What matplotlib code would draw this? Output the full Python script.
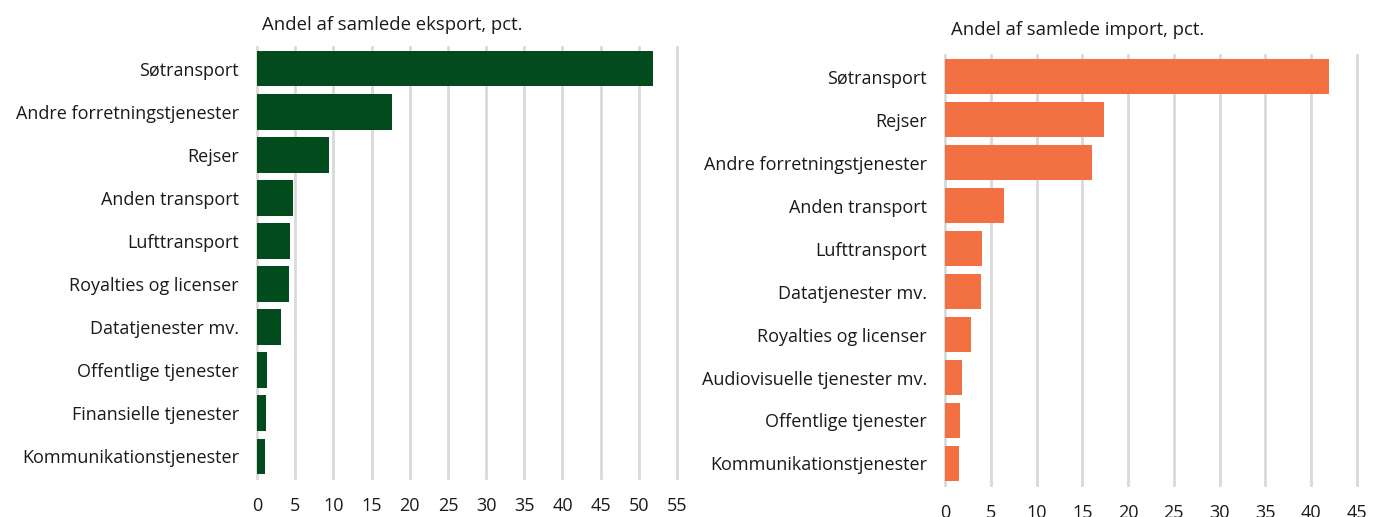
import matplotlib.pyplot as plt

plt.rcParams['font.family'] = ['Open Sans', 'DejaVu Sans']

# Eksport
eksport_kategorier = ['Søtransport', 'Andre forretningstjenester', 'Rejser', 'Anden transport',
                      'Lufttransport', 'Royalties og licenser', 'Datatjenester mv.',
                      'Offentlige tjenester', 'Finansielle tjenester', 'Kommunikationstjenester']
eksport_andel = [51.9, 17.7, 9.4, 4.7, 4.3, 4.2, 3.1, 1.3, 1.2, 1.1]

# Import
import_kategorier = ['Søtransport', 'Rejser', 'Andre forretningstjenester', 'Anden transport',
                     'Lufttransport', 'Datatjenester mv.', 'Royalties og licenser',
                     'Audiovisuelle tjenester mv.', 'Offentlige tjenester', 'Kommunikationstjenester']
import_andel = [41.9, 17.4, 16.1, 6.4, 4.0, 3.9, 2.8, 1.9, 1.6, 1.5]

GREEN = '#024b1c'
ORANGE = '#f37042'
GRID = '#d9d9d9'

fig = plt.figure(figsize=(13.8, 5.17), dpi=100)
ax1 = fig.add_axes([0.1862, 0.0754, 0.3044, 0.8336])
ax2 = fig.add_axes([0.6848, 0.0619, 0.2985, 0.8317])


def style(ax, cats, vals, color, xmax, title, title_y):
    y = range(len(cats))
    ax.barh(y, vals, height=0.83, color=color, zorder=3)
    ax.set_yticks(list(y))
    ax.set_yticklabels(cats, fontsize=13, color='#1a1a1a')
    ax.set_ylim(len(cats) - 0.5, -0.5)
    ax.set_xlim(0, xmax)
    ax.set_xticks(range(0, xmax + 1, 5))
    ax.tick_params(axis='x', labelsize=13, colors='#1a1a1a', length=0, pad=14)
    ax.tick_params(axis='y', length=0, pad=13)
    ax.grid(axis='x', color=GRID, linewidth=2, zorder=0)
    for gl in ax.get_xgridlines():
        gl.set_clip_on(False)
    ax.set_axisbelow(True)
    for s in ax.spines.values():
        s.set_visible(False)
    fig.text(ax.get_position().x0 + 0.004, title_y, title, fontsize=13.3, color='#1a1a1a', va='center')


style(ax1, eksport_kategorier, eksport_andel, GREEN, 55, 'Andel af samlede eksport, pct.', 1 - 25 / 517)
style(ax2, import_kategorier, import_andel, ORANGE, 45, 'Andel af samlede import, pct.', 1 - 30 / 517)

fig.savefig('out.png', dpi=100)
